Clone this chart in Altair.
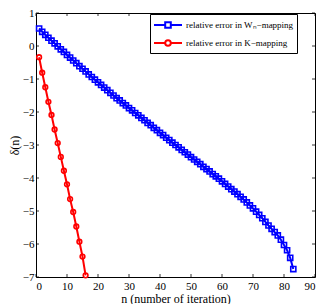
import altair as alt
import pandas as pd

# ---- data ----
w_n = list(range(1, 84))
w_delta = [
    0.53, 0.43, 0.34, 0.25, 0.16, 0.08, -0.01, -0.10, -0.18, -0.27,
    -0.35, -0.44, -0.52, -0.61, -0.69, -0.77, -0.86, -0.94, -1.02, -1.10,
    -1.18, -1.26, -1.34, -1.42, -1.50, -1.58, -1.65, -1.73, -1.80, -1.88,
    -1.95, -2.03, -2.10, -2.18, -2.25, -2.33, -2.40, -2.48, -2.55, -2.63,
    -2.70, -2.78, -2.85, -2.93, -3.00, -3.07, -3.15, -3.22, -3.29, -3.37,
    -3.44, -3.51, -3.58, -3.66, -3.73, -3.80, -3.88, -3.95, -4.02, -4.10,
    -4.18, -4.26, -4.34, -4.41, -4.49, -4.57, -4.65, -4.74, -4.83, -4.92,
    -5.02, -5.12, -5.22, -5.33, -5.44, -5.54, -5.64, -5.74, -5.87, -6.03,
    -6.19, -6.42, -6.76,
]
k_n = list(range(1, 17))
k_delta = [-0.34, -0.81, -1.25, -1.69, -2.09, -2.53, -2.94, -3.36,
           -3.78, -4.19, -4.64, -5.03, -5.47, -5.93, -6.38, -6.95]

series_names = ["relative error in W\u2099\u2212mapping",
                "relative error in K\u2212mapping"]
series_colors = ["#0000ff", "#ff0000"]
x_ticks = list(range(0, 91, 10))
y_ticks = list(range(-7, 2))

W, H = 279, 264
FONT = "Liberation Serif"

df = pd.concat([
    pd.DataFrame({"n": w_n, "delta": w_delta, "series": series_names[0]}),
    pd.DataFrame({"n": k_n, "delta": k_delta, "series": series_names[1]}),
])

xs = alt.Scale(domain=[0, 90], nice=False)
ys = alt.Scale(domain=[-7, 1], nice=False)

x_axis = alt.Axis(values=x_ticks, ticks=False, domain=False, grid=False,
                  labelOverlap=False, labelPadding=3, titlePadding=2)
y_axis = alt.Axis(values=y_ticks, ticks=False, domain=False, grid=False,
                  labelOverlap=False, labelPadding=2, titlePadding=1)
x_title = "n (number of iteration)"
y_title = "\u03b4(n)"

x_enc = alt.X("n:Q", scale=xs, title=x_title, axis=x_axis)
y_enc = alt.Y("delta:Q", scale=ys, title=y_title, axis=y_axis)

base = alt.Chart(df)

layers = []
shapes = ["square", "circle"]
for name, col, shp in zip(series_names, series_colors, shapes):
    sub = base.transform_filter(alt.datum.series == name)
    layers.append(sub.mark_line(color=col, strokeWidth=2).encode(x=x_enc, y=y_enc))
    layers.append(sub.mark_point(shape=shp, color=col, filled=False, strokeWidth=1.6,
                                 size=26 if shp == "square" else 22, opacity=1)
                  .encode(x=x_enc, y=y_enc))

# legend glyphs: a line segment with the marker in its middle
sq_path = "M-2,0H-0.4M0.4,0H2M-0.4,-0.4H0.4V0.4H-0.4Z"
ci_path = "M-2,0H-0.4M0.4,0H2M0.4,0A0.4,0.4 0 1 1 -0.4,0A0.4,0.4 0 1 1 0.4,0Z"

legend_layer = base.mark_point(opacity=0, filled=False, size=196).encode(
    x=x_enc, y=y_enc,
    color=alt.Color("series:N", scale=alt.Scale(domain=series_names, range=series_colors),
                    legend=alt.Legend(title=None, orient="none", legendX=114, legendY=1,
                                      strokeColor="black", fillColor="white",
                                      padding=3, cornerRadius=0,
                                      symbolOpacity=1, symbolStrokeWidth=2,
                                      symbolSize=196, symbolOffset=7,
                                      symbolFillColor="transparent",
                                      labelFont=FONT, labelFontSize=9, labelOffset=10,
                                      labelColor="black", rowPadding=3)),
    shape=alt.Shape("series:N", scale=alt.Scale(domain=series_names, range=[sq_path, ci_path])),
)

tick_df = pd.DataFrame({"v": x_ticks})
ytick_df = pd.DataFrame({"v": y_ticks})
tl = 3
ticks = [
    alt.Chart(tick_df).mark_rule(color="black", strokeWidth=0.8).encode(
        x=alt.X("v:Q", scale=xs, title=x_title, axis=x_axis), y=alt.value(H), y2=alt.value(H - tl)),
    alt.Chart(tick_df).mark_rule(color="black", strokeWidth=0.8).encode(
        x=alt.X("v:Q", scale=xs, title=x_title, axis=x_axis), y=alt.value(0), y2=alt.value(tl)),
    alt.Chart(ytick_df).mark_rule(color="black", strokeWidth=0.8).encode(
        y=alt.Y("v:Q", scale=ys, title=y_title, axis=y_axis), x=alt.value(0), x2=alt.value(tl)),
    alt.Chart(ytick_df).mark_rule(color="black", strokeWidth=0.8).encode(
        y=alt.Y("v:Q", scale=ys, title=y_title, axis=y_axis), x=alt.value(W), x2=alt.value(W - tl)),
]

chart = alt.layer(*layers, legend_layer, *ticks).properties(
    width=W, height=H, padding={"left": 0, "top": -1, "right": 0, "bottom": 0}
).configure_view(stroke="black", strokeWidth=1).configure_axis(
    labelFont=FONT, labelFontSize=11, labelColor="black", labelOverlap=False,
    titleFont=FONT, titleFontSize=12, titleColor="black", titleFontWeight="normal"
)

chart.save("out.html", embed_options={"renderer": "svg", "actions": False})
